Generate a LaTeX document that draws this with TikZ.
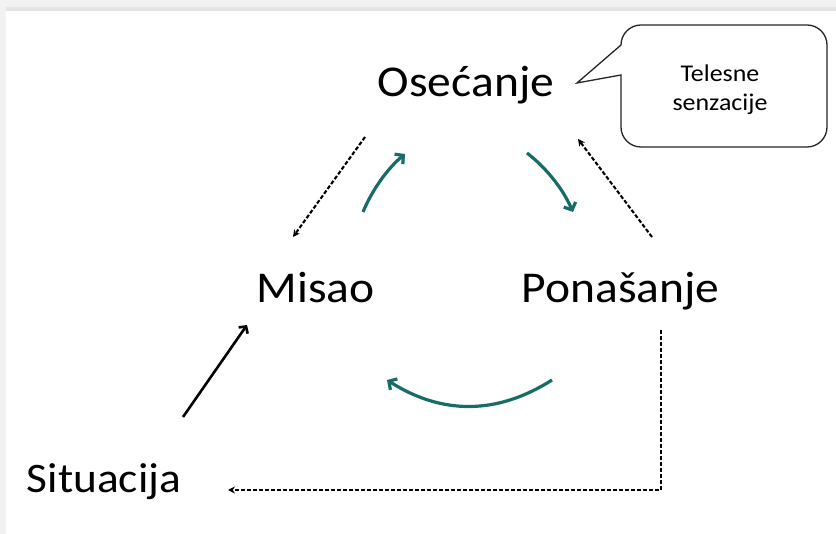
\documentclass[tikz,border=0pt]{standalone}
\usepackage{fontspec}
\setmainfont{Carlito}
\usetikzlibrary{arrows.meta}
\definecolor{tealc}{RGB}{22,108,102}
\newcommand\widetxt[1]{\scalebox{1.08}[1]{#1}}
\tikzset{
  bigtxt/.style={anchor=base,inner sep=0pt,font=\fontsize{44}{50}\selectfont},
  smalltxt/.style={anchor=base,inner sep=0pt,font=\fontsize{24}{29}\selectfont,align=center},
  dasharrow/.style={draw=black,line width=2.1pt,dash pattern=on 4pt off 2pt,-{Stealth[length=7pt,width=7pt]}},
  cyclearrow/.style={draw=tealc,line width=3.2pt,-{Straight Barb[length=6pt,width=13pt,line width=3.2pt]}},
  solidarrow/.style={draw=black,line width=2.6pt,-{Straight Barb[length=5pt,width=11pt,line width=2.6pt]}},
  callout/.style={draw=black!85,line width=1.3pt,fill=white}
}
\begin{document}
\begin{tikzpicture}[x=1pt,y=-1pt]
\useasboundingbox (0,0) rectangle (836,534);
\fill[black!5] (0,0) rectangle (836,534);
\fill[black!10] (6,7) rectangle (836,11);
\fill[white] (6,11) rectangle (836,534);

% callout
\draw[callout] (577,83) -- (621,75) -- (621,127) arc[start angle=180,end angle=90,radius=20]
  -- (807,147) arc[start angle=90,end angle=0,radius=20]
  -- (827,45) arc[start angle=0,end angle=-90,radius=20]
  -- (641,25) arc[start angle=-90,end angle=-180,radius=20] -- cycle;
\node[smalltxt] (tel) at (720,82) {\widetxt{Telesne}};
\node[smalltxt] (sen) at (720,111) {\widetxt{senzacije}};

% labels
\node[bigtxt] (ose) at (466,97) {\widetxt{Osećanje}};
\node[bigtxt] (mis) at (315.5,303) {\widetxt{Misao}};
\node[bigtxt] (pon) at (620.5,303) {\widetxt{Ponašanje}};
\node[bigtxt,font=\fontsize{42}{50}\selectfont] (sit) at (104,493) {\widetxt{Situacija}};

% anchor coordinates
\coordinate (oseBL) at (365,137);
\coordinate (misTR) at (293,237);
\coordinate (ponTL) at (652,237);
\coordinate (oseBR) at (578,139);
\coordinate (c1s) at (363,212);
\coordinate (c1e) at (405,154);
\coordinate (c2s) at (527,153);
\coordinate (c2e) at (573,212);
\coordinate (c3s) at (552,380);
\coordinate (c3e) at (387,380);
\coordinate (sitTR) at (183,417);
\coordinate (misBL) at (247,325);
\coordinate (ponB) at (661,330);
\coordinate (corner) at (661,490);
\coordinate (sitR) at (228,490);

% dashed arrows
\draw[dasharrow] (oseBL) -- (misTR);
\draw[dasharrow] (ponTL) -- (oseBR);
\draw[dasharrow] (ponB) -- (corner) -- (sitR);

% cycle arrows
\draw[cyclearrow] (c1s) .. controls (372,190) and (388,168) .. (c1e);
\draw[cyclearrow] (c2s) .. controls (545,167) and (562,187) .. (c2e);
\draw[cyclearrow] (c3s) .. controls (497,415) and (442,415) .. (c3e);

% solid arrow
\draw[solidarrow] (sitTR) -- (misBL);
\end{tikzpicture}
\end{document}
